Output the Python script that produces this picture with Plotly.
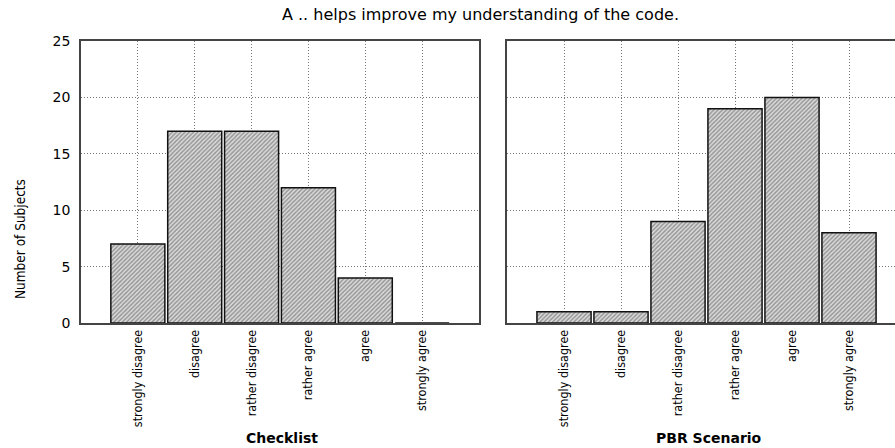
import plotly.graph_objects as go

categories = ["strongly disagree", "disagree", "rather disagree", "rather agree", "agree", "strongly agree"]
checklist_counts = [7, 17, 17, 12, 4, 0]
pbr_counts = [1, 1, 9, 19, 20, 8]
y_ticks = [0, 5, 10, 15, 20, 25]

W, H = 895, 448
def px_x(v): return v / W
def px_y(v): return 1 - v / H

bar_style = dict(
    color="#dddddd",
    line=dict(color="#111111", width=1.5),
    pattern=dict(shape="/", fgcolor="#505050", bgcolor="#dcdcdc", size=3, solidity=0.5),
)

fig = go.Figure()
fig.add_trace(go.Bar(x=categories, y=checklist_counts, width=0.95, marker=bar_style,
                     xaxis="x", yaxis="y", showlegend=False))
fig.add_trace(go.Bar(x=categories, y=pbr_counts, width=0.95, marker=bar_style,
                     xaxis="x2", yaxis="y2", showlegend=False))

narrow = "Liberation Sans Narrow, Arial Narrow, DejaVu Sans Condensed, sans-serif"
tick_font = dict(family=narrow, size=12.5, color="#000")
grid = dict(showgrid=True, gridcolor="#777777", griddash="1px,2px", gridwidth=1)

common_x = dict(type="category", tickangle=-90, tickfont=tick_font, ticks="", automargin=False,
                showline=True, linecolor="#444444", linewidth=1.5, zeroline=False, mirror=True, **grid)

fig.update_layout(
    width=W, height=H,
    margin=dict(l=0, r=0, t=0, b=0, autoexpand=False),
    paper_bgcolor="white", plot_bgcolor="white",
    bargap=0.05,
    xaxis=dict(domain=[px_x(81), px_x(479)], range=[-1, 6], anchor="y", **common_x),
    xaxis2=dict(domain=[px_x(507), 1.0], range=[-1, 5.807], anchor="y2", **common_x),
    yaxis=dict(domain=[px_y(323), px_y(41)], range=[0, 25], tickvals=y_ticks, ticks="", automargin=False,
               tickfont=dict(family="DejaVu Sans, sans-serif", size=14, color="#000"),
               showline=True, linecolor="#444444", linewidth=1.5, mirror=True, zeroline=False,
               ticklabelstandoff=6, **grid),
    yaxis2=dict(domain=[px_y(323), px_y(41)], range=[0, 25], tickvals=y_ticks, showticklabels=False,
                ticks="", anchor="x2", automargin=False, showline=True, linecolor="#444444", linewidth=1.5,
                mirror=False, zeroline=False, **grid),
    annotations=[
        dict(text="A .. helps improve my understanding of the code.", x=px_x(480), y=px_y(14),
             xref="paper", yref="paper", showarrow=False, xanchor="center", yanchor="middle",
             font=dict(family="DejaVu Sans, sans-serif", size=16, color="#000")),
        dict(text="Number of Subjects", x=px_x(20), y=px_y(239), textangle=-90,
             xref="paper", yref="paper", showarrow=False, xanchor="center", yanchor="middle",
             font=dict(family=narrow, size=13.5, color="#000")),
        dict(text="<b>Checklist</b>", x=px_x(282), y=px_y(438),
             xref="paper", yref="paper", showarrow=False, xanchor="center", yanchor="middle",
             font=dict(family="DejaVu Sans, sans-serif", size=14, color="#000")),
        dict(text="<b>PBR Scenario</b>", x=px_x(709), y=px_y(438),
             xref="paper", yref="paper", showarrow=False, xanchor="center", yanchor="middle",
             font=dict(family="DejaVu Sans, sans-serif", size=14, color="#000")),
    ],
)

fig.write_html("out.html", post_script="document.body.style.margin='0';", config={"displayModeBar": False})
